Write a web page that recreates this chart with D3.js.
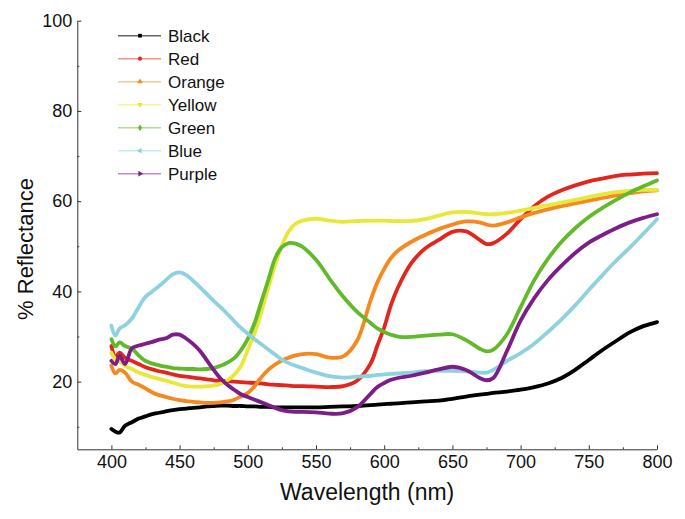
<!DOCTYPE html>
<html>
<head>
<meta charset="utf-8">
<script src="https://cdn.jsdelivr.net/npm/d3@7"></script>
<style>
  html, body { margin: 0; padding: 0; background: #fff; }
  svg { display: block; font-family: "Liberation Sans", Arial, sans-serif; }
</style>
</head>
<body>
<svg id="chart" width="685" height="519"></svg>
<script>
const wavelengths = [400,403,406,410,415,420,425,430,435,440,445,450,455,460,465,470,475,480,485,490,495,500,505,510,515,520,525,530,535,540,550,560,570,580,590,595,600,605,610,620,630,640,650,660,670,675,680,690,700,710,720,730,740,750,760,770,780,790,800];

const black  = [9.5,8.9,8.7,10.2,11.0,11.8,12.3,12.8,13.1,13.4,13.7,13.9,14.0,14.2,14.3,14.5,14.6,14.7,14.7,14.6,14.6,14.5,14.5,14.4,14.4,14.3,14.3,14.3,14.3,14.3,14.3,14.4,14.5,14.6,14.8,14.9,15.0,15.1,15.2,15.4,15.6,15.8,16.2,16.7,17.1,17.3,17.5,17.8,18.2,18.8,19.6,20.8,22.6,24.8,27.0,29.0,30.9,32.3,33.2];
const red    = [27.9,25.5,26.4,25.3,24.6,23.9,23.2,22.7,22.3,22.0,21.6,21.3,21.1,20.9,20.7,20.5,20.3,20.2,20.1,20.0,19.9,19.8,19.7,19.6,19.4,19.3,19.2,19.1,19.0,19.0,18.9,18.8,19.0,20.2,24.0,28.0,32.0,37.0,40.8,46.3,49.5,51.4,53.2,53.3,51.4,50.5,50.7,52.8,56.0,58.9,61.0,62.4,63.5,64.4,65.0,65.6,65.9,66.1,66.2];
const orange = [23.5,21.8,22.6,22.0,20.0,19.3,18.5,17.6,17.0,16.6,16.2,15.9,15.7,15.5,15.4,15.3,15.3,15.4,15.6,16.0,16.7,17.5,19.0,21.0,22.6,23.8,24.7,25.3,25.8,26.1,26.1,25.3,25.6,29.0,38.0,42.0,45.0,47.4,49.0,51.0,52.5,53.8,54.8,55.5,55.3,54.8,54.6,55.3,56.4,57.4,58.2,58.9,59.5,60.1,60.7,61.3,61.8,62.2,62.4];
const yellow = [26.4,25.0,24.5,23.5,22.8,22.0,21.5,21.0,20.6,20.2,19.8,19.3,19.0,18.9,18.9,19.0,19.1,19.5,20.3,21.5,23.5,27.0,30.8,35.5,40.8,45.8,50.2,53.3,55.0,55.7,56.1,55.7,55.4,55.6,55.7,55.7,55.7,55.6,55.6,55.6,56.0,56.8,57.5,57.6,57.3,57.1,57.1,57.4,57.9,58.5,59.1,59.7,60.3,60.9,61.5,62.0,62.3,62.5,62.5];
const green  = [29.4,27.8,28.7,27.9,27.3,25.8,24.6,24.0,23.6,23.3,23.0,22.9,22.8,22.8,22.7,22.8,23.0,23.5,24.2,25.2,27.0,29.5,33.0,37.8,42.5,47.3,49.8,50.7,50.6,49.9,47.0,42.8,38.8,35.5,33.0,31.8,31.0,30.4,30.0,29.9,30.2,30.4,30.5,29.2,27.3,26.7,27.1,30.5,36.5,42.5,47.2,51.0,54.0,56.5,58.5,60.3,61.9,63.3,64.6];
const blue   = [32.4,30.2,31.8,32.5,34.0,36.5,38.8,40.0,41.2,42.5,43.8,44.2,43.6,42.3,40.9,39.4,37.9,36.5,35.0,33.4,31.9,30.6,29.4,28.3,27.1,26.0,24.9,24.1,23.5,23.0,22.0,21.2,20.9,21.1,21.3,21.5,21.6,21.7,21.8,22.0,22.3,22.4,22.4,22.3,22.0,22.0,22.6,24.6,26.3,28.4,31.0,33.8,36.9,40.3,43.6,46.8,49.7,52.8,56.0];
const purple = [24.6,23.9,25.7,23.9,27.4,28.0,28.4,28.8,29.3,29.6,30.4,30.4,29.5,28.3,26.8,24.7,22.6,20.7,19.3,18.2,17.2,16.6,16.0,15.4,14.8,14.2,13.7,13.4,13.3,13.3,13.2,12.9,13.0,14.3,17.3,18.8,19.7,20.4,20.8,21.3,22.0,22.7,23.3,22.6,20.8,20.3,20.8,26.8,33.5,38.5,42.5,45.7,48.5,50.8,52.5,54.0,55.3,56.3,57.1];

const seriesNames = ["Black","Red","Orange","Yellow","Green","Blue","Purple"];
const seriesValues = [black, red, orange, yellow, green, blue, purple];
const seriesColors = ["#000000","#e3261d","#f5891f","#e8e83a","#61ba2a","#8fd2df","#7d1d88"];
const markerTypes = ["square","circle","triangleUp","triangleDown","diamond","triangleLeft","triangleRight"];

const xMajorTicks = [400,450,500,550,600,650,700,750,800];
const xMinorTicks = [425,475,525,575,625,675,725,775];
const yMajorTicks = [20,40,60,80,100];
const yMinorTicks = [10,30,50,70,90];

const svg = d3.select("#chart");
const x = d3.scaleLinear().domain([375, 800]).range([77.3, 657]);
const y = d3.scaleLinear().domain([5, 100]).range([449.3, 20.7]);
const axisColor = "#333";

// Minor ticks
svg.append("g").attr("transform", `translate(0,${y(5)})`)
  .call(d3.axisBottom(x).tickValues(xMinorTicks).tickSize(-2).tickSizeOuter(0).tickFormat(""))
  .call(g => g.select(".domain").remove())
  .call(g => g.selectAll("line").attr("stroke", axisColor));
svg.append("g").attr("transform", `translate(${x(375)},0)`)
  .call(d3.axisLeft(y).tickValues(yMinorTicks).tickSize(-2).tickSizeOuter(0).tickFormat(""))
  .call(g => g.select(".domain").remove())
  .call(g => g.selectAll("line").attr("stroke", axisColor));

// Major axes
svg.append("g").attr("transform", `translate(0,${y(5)})`)
  .call(d3.axisBottom(x).tickValues(xMajorTicks).tickSize(-4).tickSizeOuter(0).tickPadding(6).tickFormat(d3.format("d")))
  .call(g => g.select(".domain").attr("stroke", axisColor))
  .call(g => g.selectAll("line").attr("stroke", axisColor))
  .call(g => g.selectAll("text").attr("font-size", 18).attr("fill", "#111").attr("font-family", "Liberation Sans, Arial, sans-serif"));
svg.append("g").attr("transform", `translate(${x(375)},0)`)
  .call(d3.axisLeft(y).tickValues(yMajorTicks).tickSize(-4).tickSizeOuter(0).tickPadding(5).tickFormat(d3.format("d")))
  .call(g => g.select(".domain").attr("stroke", axisColor))
  .call(g => g.selectAll("line").attr("stroke", axisColor))
  .call(g => g.selectAll("text").attr("font-size", 18).attr("fill", "#111").attr("font-family", "Liberation Sans, Arial, sans-serif"));

// Axis titles
svg.append("text").attr("x", (x(375) + x(800)) / 2).attr("y", 500)
  .attr("text-anchor", "middle").attr("font-size", 23).attr("fill", "#111")
  .text("Wavelength (nm)");
svg.append("text").attr("transform", "translate(33,249) rotate(-90)")
  .attr("text-anchor", "middle").attr("font-size", 22).attr("fill", "#111")
  .text("% Reflectance");

// Lines
const line = d3.line().x((d, i) => x(wavelengths[i])).y(d => y(d)).curve(d3.curveCatmullRom.alpha(0.5));
const linesG = svg.append("g");
seriesValues.forEach((vals, k) => {
  linesG.append("path").datum(vals)
    .attr("d", line)
    .attr("fill", "none")
    .attr("stroke", seriesColors[k])
    .attr("stroke-width", 3.8)
    .attr("stroke-linejoin", "round")
    .attr("stroke-linecap", "round");
});

// Legend
const symbolMap = {
  square: d3.symbolSquare, circle: d3.symbolCircle, triangleUp: d3.symbolTriangle,
  triangleDown: d3.symbolTriangle, diamond: d3.symbolDiamond,
  triangleLeft: d3.symbolTriangle, triangleRight: d3.symbolTriangle
};
const rotMap = { triangleDown: 180, triangleLeft: -90, triangleRight: 90 };
const legend = svg.append("g");
seriesNames.forEach((name, k) => {
  const ly = 35.7 + k * 23;
  const g = legend.append("g").attr("transform", `translate(0,${ly})`);
  g.append("line").attr("x1", 118).attr("x2", 161).attr("y1", 0).attr("y2", 0)
    .attr("stroke", seriesColors[k]).attr("stroke-width", 1.6).attr("stroke-opacity", k === 0 ? 0.6 : 0.5);
  const t = markerTypes[k];
  g.append("path").attr("d", d3.symbol().type(symbolMap[t]).size(14)())
    .attr("transform", `translate(140,0) rotate(${rotMap[t] || 0})`)
    .attr("fill", seriesColors[k]);
  g.append("text").attr("x", 168).attr("y", 0).attr("dy", "0.35em")
    .attr("font-size", 17).attr("fill", "#111").text(name);
});
</script>
</body>
</html>
